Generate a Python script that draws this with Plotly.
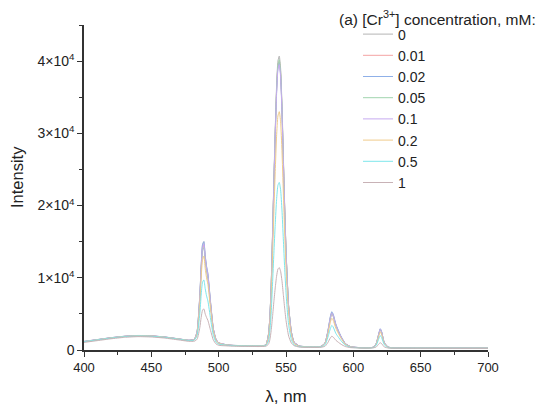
import plotly.graph_objects as go

wavelength = [400,410,420,430,440,450,460,470,478,
              482,484,486,487,488,489,490,491,492,494,496,498,500,
              505,510,520,530,535,
              537,538,539,540,541,542,543,544,545,546,547,548,549,550,551,552,
              554,556,560,570,
              576,579,581,583,584,585,587,589,591,594,598,
              605,612,615,617,619,620,621,623,626,630,
              650,670,700]

conc_labels = ["0", "0.01", "0.02", "0.05", "0.1", "0.2", "0.5", "1"]

I_0 = [1200,1450,1700,1900,2000,1950,1800,1550,1350,
       1500,2600,7500,11500,14500,15000,13000,11500,10500,6500,3000,1500,1000,
       750,650,600,580,700,
       2200,4500,9000,16000,23500,30500,36500,40000,40700,39000,34000,27000,20000,14000,9500,6000,
       2500,1100,550,450,
       500,1000,2500,4600,5200,4900,3500,2600,1800,900,450,
       330,320,400,900,2300,2900,2500,1000,400,300,
       290,280,280]
I_001 = [1150,1420,1680,1880,1980,1940,1780,1530,1330,
         1480,2500,7200,11100,14000,14500,12600,11100,10100,6300,2900,1450,980,
         740,640,590,570,690,
         2150,4400,8850,15700,23100,30000,35900,39300,40000,38300,33400,26500,19700,13800,9300,5900,
         2450,1080,540,440,
         490,980,2400,4400,5000,4700,3400,2500,1750,880,440,
         320,310,390,870,2200,2800,2400,970,390,290,
         280,270,270]
I_002 = [1180,1440,1700,1900,2010,1960,1800,1550,1350,
         1500,2600,7600,11600,14600,15000,13100,11600,10600,6600,3000,1500,1000,
         760,650,600,580,700,
         2150,4400,8800,15650,23000,29800,35700,39100,39800,38100,33300,26400,19600,13700,9300,5900,
         2450,1080,550,450,
         500,1000,2550,4700,5300,5000,3600,2650,1850,920,460,
         330,320,400,920,2350,2950,2550,1020,400,300,
         290,280,280]
I_005 = [1150,1400,1660,1870,1970,1930,1770,1520,1320,
         1450,2450,7100,10900,13700,14200,12300,10900,9900,6200,2850,1420,960,
         730,630,580,560,680,
         2170,4450,8900,15800,23200,30100,36000,39500,40200,38500,33600,26700,19800,13800,9400,5900,
         2470,1090,540,440,
         490,980,2400,4400,5000,4700,3400,2500,1750,870,440,
         320,310,390,880,2250,2850,2450,990,390,290,
         280,270,270]
I_01 = [1170,1430,1690,1890,1990,1950,1790,1540,1340,
        1480,2550,7350,11300,14200,14700,12700,11300,10300,6400,2950,1470,990,
        750,640,590,570,690,
        2130,4370,8730,15500,22800,29600,35400,38800,39500,37800,33000,26200,19400,13600,9200,5800,
        2430,1070,540,440,
        500,990,2450,4500,5100,4800,3450,2550,1780,890,450,
        330,320,400,900,2300,2900,2500,1000,400,300,
        290,280,280]
I_02 = [1150,1410,1670,1870,1970,1930,1770,1520,1320,
        1420,2300,6500,10000,12500,13000,11300,10000,9100,5700,2650,1350,930,
        720,630,580,560,650,
        1780,3650,7300,13000,19100,24700,29600,32400,33000,31600,27600,21900,16200,11400,7700,4900,
        2030,900,500,420,
        460,880,2150,3900,4400,4150,3000,2250,1580,800,420,
        310,300,370,800,2000,2500,2150,880,360,280,
        270,260,260]
I_05 = [1150,1400,1650,1850,1950,1900,1750,1500,1300,
        1380,2000,5000,7600,9400,9700,8500,7500,6800,4300,2050,1100,800,
        680,600,560,540,600,
        1250,2560,5130,9120,13400,17400,20800,22800,23200,22200,19400,15400,11400,8000,5400,3400,
        1430,700,450,400,
        430,720,1700,3000,3400,3200,2300,1750,1250,660,380,
        300,290,340,660,1600,2000,1720,720,320,270,
        260,250,250]
I_1 = [1050,1300,1550,1750,1850,1800,1650,1400,1200,
       1220,1500,3100,4500,5500,5700,5000,4500,4100,2700,1400,850,650,
       580,530,500,480,520,
       800,1400,2700,4600,6700,8600,10200,11200,11400,10900,9600,7700,5800,4100,2900,1900,
       950,600,400,360,
       380,520,1000,1700,1900,1800,1350,1050,780,480,330,
       280,270,300,420,850,1000,880,420,270,250,
       240,230,230]

series = [I_0, I_001, I_002, I_005, I_01, I_02, I_05, I_1]
colors = ["#b4b4b4", "#f4a3a3", "#8fb0e8", "#a0d4ae", "#c6aaf0", "#f0cc8c", "#7ee6ec", "#c8b2b6"]

y_tickvals = [0, 10000, 20000, 30000, 40000]
y_ticktext = ["0", "1×10<sup>4</sup>", "2×10<sup>4</sup>", "3×10<sup>4</sup>", "4×10<sup>4</sup>"]

FONT = "Liberation Sans, Arial, sans-serif"

# page has an 8px body offset: figure drawn at 542x401
W, H = 542, 401
L, R, T, B = 76, 62, 17, 59
PW, PH = W - L - R, H - T - B

def px_x(px):
    return (px - L) / PW

def px_y(py):
    return (H - B - py) / PH

fig = go.Figure()
for lab, vals, col in zip(conc_labels, series, colors):
    fig.add_trace(go.Scatter(
        x=wavelength, y=vals, mode="lines", name=lab,
        line=dict(color=col, width=1, shape="spline", smoothing=0.5),
    ))

fig.update_layout(
    width=W, height=H,
    margin=dict(l=L, r=R, t=T, b=B, autoexpand=False),
    plot_bgcolor="white", paper_bgcolor="white",
    font=dict(family=FONT, color="#222", size=13),
    showlegend=True,
    legend=dict(
        x=px_x(350), xanchor="left",
        y=px_y(10.5), yanchor="top",
        font=dict(size=14, family=FONT, color="#222"),
        bgcolor="rgba(0,0,0,0)", borderwidth=0,
        tracegroupgap=0,
    ),
    annotations=[
        dict(
            text="(a) [Cr<sup>3+</sup>] concentration, mM:",
            xref="paper", yref="paper",
            x=px_x(329), xanchor="left",
            y=px_y(10), yanchor="middle",
            showarrow=False, font=dict(size=15.5, family=FONT, color="#222"),
        ),
        dict(
            text="Intensity",
            xref="paper", yref="paper",
            x=px_x(9), xanchor="center",
            y=px_y(169), yanchor="middle",
            textangle=-90,
            showarrow=False, font=dict(size=16.5, family=FONT, color="#222"),
        ),
    ],
)

fig.update_xaxes(
    range=[400, 700], tickvals=[400, 450, 500, 550, 600, 650, 700],
    ticks="outside", ticklen=5, tickwidth=1.2, tickcolor="#333",
    showline=True, linecolor="#333", linewidth=1.5,
    showgrid=False, zeroline=False, automargin=False,
    minor=dict(dtick=25, tick0=400, ticks="outside", ticklen=3, tickwidth=1.2, tickcolor="#333", showgrid=False),
    tickfont=dict(size=13),
    title=dict(text="λ, nm", font=dict(size=17), standoff=16),
)
fig.update_yaxes(
    range=[0, 45000], tickvals=y_tickvals, ticktext=y_ticktext,
    ticks="outside", ticklen=5, tickwidth=1.2, tickcolor="#333",
    showline=True, linecolor="#333", linewidth=1.5,
    showgrid=False, zeroline=False, automargin=False,
    minor=dict(dtick=5000, tick0=0, ticks="outside", ticklen=3, tickwidth=1.2, tickcolor="#333", showgrid=False),
    tickfont=dict(size=14),
)

fig.write_html("out.html")
